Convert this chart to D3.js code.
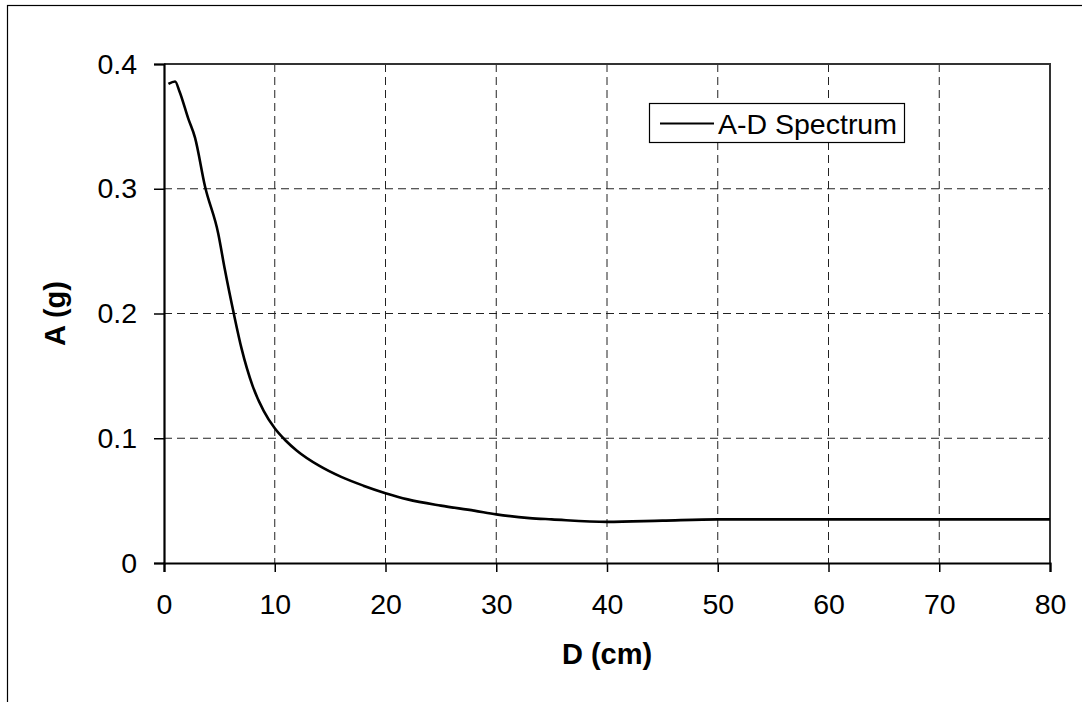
<!DOCTYPE html>
<html><head><meta charset="utf-8">
<script src="https://cdn.jsdelivr.net/npm/d3@7"></script>
<style>html,body{margin:0;padding:0;background:#fff;}svg{display:block;}</style>
</head><body>
<svg id="chart" width="1082" height="702"></svg>
<script>
const dValues = [0.4, 1.0, 1.4, 2.2, 2.8, 3.7, 4.9, 5.5, 6.3, 7, 8, 9, 10, 11, 12, 14, 16, 18, 20, 22, 25, 28, 30, 33, 35, 40, 45, 50, 60, 70, 80];
const aValues = [0.384, 0.386, 0.378, 0.356, 0.341, 0.302, 0.264, 0.235, 0.2, 0.172, 0.142, 0.122, 0.108, 0.098, 0.09, 0.078, 0.069, 0.062, 0.056, 0.051, 0.046, 0.042, 0.039, 0.036, 0.035, 0.033, 0.034, 0.035, 0.035, 0.035, 0.035];
const xTicks = [0, 10, 20, 30, 40, 50, 60, 70, 80];
const yTicks = [0, 0.1, 0.2, 0.3, 0.4];
const seriesName = "A-D Spectrum";
const xTitle = "D (cm)";
const yTitle = "A (g)";

const svg = d3.select("#chart");
const L = 164, R = 1050, T = 64, B = 563;
const x = d3.scaleLinear().domain([0, 80]).range([L, R]);
const y = d3.scaleLinear().domain([0, 0.4]).range([B, T]);
const font = "Arial, 'Liberation Sans', sans-serif";

// outer chart border
svg.append("rect").attr("x", 7.5).attr("y", 5.5).attr("width", 1200).attr("height", 900)
  .attr("fill", "none").attr("stroke", "#000").attr("stroke-width", 1.2);

// gridlines
svg.append("g").selectAll("line").data(xTicks.filter(t => t > 0 && t < 80)).join("line")
  .attr("x1", d => x(d)).attr("x2", d => x(d)).attr("y1", T).attr("y2", B)
  .attr("stroke", "#222").attr("stroke-width", 1).attr("stroke-dasharray", "8,5");
svg.append("g").selectAll("line").data(yTicks.filter(t => t > 0 && t < 0.4)).join("line")
  .attr("x1", L).attr("x2", R).attr("y1", d => y(d)).attr("y2", d => y(d))
  .attr("stroke", "#222").attr("stroke-width", 1).attr("stroke-dasharray", "8,5");

// plot frame (top/right)
svg.append("path").attr("d", `M${L},${T}H${R}V${B}`).attr("fill", "none")
  .attr("stroke", "#333").attr("stroke-width", 2);

// axes
const xAxis = d3.axisBottom(x).tickValues(xTicks).tickSize(9).tickPadding(22).tickFormat(d3.format("d"));
const gx = svg.append("g").attr("transform", `translate(0,${B})`).call(xAxis);
gx.select(".domain").attr("stroke", "#000").attr("stroke-width", 2.2);
gx.selectAll(".tick line").attr("stroke", "#000").attr("stroke-width", 1.5);
gx.selectAll("text").attr("font-family", font).attr("font-size", 28.5).attr("fill", "#000");

const yAxis = d3.axisLeft(y).tickValues(yTicks).tickSize(10).tickPadding(17).tickFormat(d => d === 0 ? "0" : d3.format(".1f")(d));
const gy = svg.append("g").attr("transform", `translate(${L},0)`).call(yAxis);
gy.select(".domain").attr("stroke", "#000").attr("stroke-width", 2.2);
gy.selectAll(".tick line").attr("stroke", "#000").attr("stroke-width", 1.5);
gy.selectAll("text").attr("font-family", font).attr("font-size", 28.5).attr("fill", "#000");

// series line
const data = dValues.map((d, i) => ({d, a: aValues[i]}));
const line = d3.line().x(p => x(p.d)).y(p => y(p.a)).curve(d3.curveMonotoneX);
svg.append("path").datum(data).attr("d", line).attr("fill", "none")
  .attr("stroke", "#000").attr("stroke-width", 2.6).attr("stroke-linejoin", "round");

// axis titles
svg.append("text").attr("x", (L + R) / 2).attr("y", 664).attr("text-anchor", "middle")
  .attr("font-family", font).attr("font-size", 29).attr("font-weight", "bold").text(xTitle);
svg.append("text").attr("transform", `translate(65,${(T + B) / 2}) rotate(-90)`).attr("text-anchor", "middle")
  .attr("font-family", font).attr("font-size", 29).attr("font-weight", "bold").text(yTitle);

// legend
const lg = svg.append("g");
lg.append("rect").attr("x", 649.5).attr("y", 103.5).attr("width", 255).attr("height", 39)
  .attr("fill", "#fff").attr("stroke", "#000").attr("stroke-width", 1.2);
lg.append("line").attr("x1", 660).attr("x2", 714).attr("y1", 123.5).attr("y2", 123.5)
  .attr("stroke", "#000").attr("stroke-width", 2);
lg.append("text").attr("x", 718).attr("y", 133.5).attr("font-family", font).attr("font-size", 28.5)
  .attr("fill", "#000").text(seriesName);
</script>
</body></html>
